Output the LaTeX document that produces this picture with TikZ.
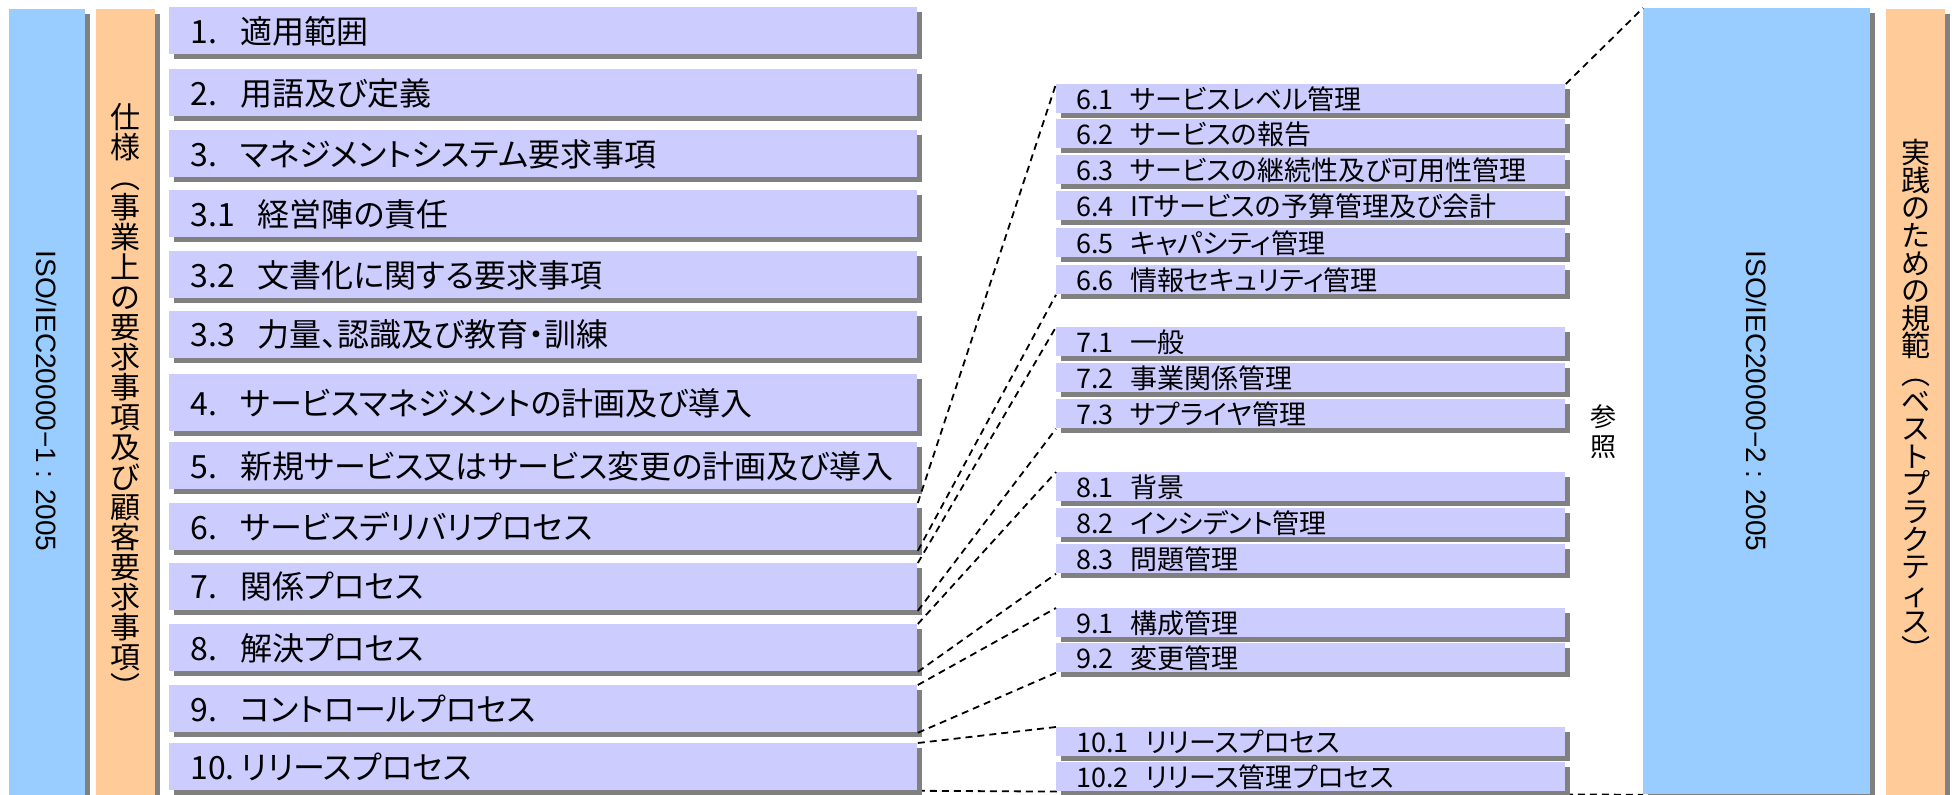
\documentclass[tikz,border=0pt]{standalone}
\usepackage{fontspec}
\setmainfont{Liberation Sans}
\newfontfamily\jpfont{Noto Sans CJK JP}[RawFeature=+palt]
\newfontfamily\jpstack{Noto Sans CJK JP}
\usetikzlibrary{shadows,backgrounds}

\definecolor{clauselilac}{HTML}{CCCCFF}
\definecolor{isoblue}{HTML}{99CCFF}
\definecolor{notepeach}{HTML}{FFCC99}
\definecolor{shadegray}{HTML}{808080}

\newcommand\tightlines{\lineskiplimit=-20pt\relax}

\tikzset{
  raised/.style={anchor=north west,inner sep=0pt,
    drop shadow={shadow xshift=2.5pt,shadow yshift=-2.5pt,fill=shadegray,opacity=1}},
  column/.style={raised,minimum height=400pt},
  clause/.style={raised,fill=clauselilac,minimum width=374pt,minimum height=23.5pt,
    inner xsep=10.5pt,text width=353pt,align=left,font=\jpfont\fontsize{16}{18}\selectfont},
  subclause/.style={raised,fill=clauselilac,minimum width=254.5pt,minimum height=14.5pt,
    inner xsep=10pt,text width=234.5pt,align=left,font=\jpfont\fontsize{13.5}{14}\selectfont},
  vstack/.style={align=center,inner sep=0pt,font={\jpstack\fontsize{15}{15}\selectfont\tightlines}},
  isotitle/.style={rotate=-90,inner sep=0pt,font=\fontsize{14}{16}\selectfont},
  link/.style={draw,line width=0.9pt,dash pattern=on 3.5pt off 2.5pt}
}

\begin{document}
\begin{tikzpicture}[x=0.5pt,y=-0.5pt]
\useasboundingbox (0,0) rectangle (1952,795);
\clip (0,0) rectangle (1952,795);

\node[column,fill=isoblue,minimum width=38pt] (iso1) at (9,9) {};
\node[column,fill=notepeach,minimum width=29.5pt] (spec) at (96,9) {};
\node[column,fill=isoblue,minimum width=113.5pt,minimum height=393pt] (iso2) at (1643,8) {};
\node[column,fill=notepeach,minimum width=29.5pt] (practice) at (1886,9) {};

\node[isotitle] (iso1text) at (47,401) {ISO/IEC20000−1 : 2005};
\node[isotitle] (iso2text) at (1756.5,401) {ISO/IEC20000−2 : 2005};
\node[vstack] (spectext) at (125.5,401)
  {仕\\様\\︵\\事\\業\\上\\の\\要\\求\\事\\項\\及\\び\\顧\\客\\要\\求\\事\\項\\︶};
\node[vstack,font={\jpstack\fontsize{14.5}{13.8}\selectfont\tightlines}] (practicetext) at (1915.5,400)
  {実\\践\\の\\た\\め\\の\\規\\範\\︵\\ベ\\ス\\ト\\プ\\ラ\\ク\\テ\\ィ\\ス\\︶};
\node[vstack,font={\jpstack\fontsize{13}{15}\selectfont\tightlines}] (refer) at (1603,432) {参\\照};

\node[clause] (c1) at (169,7) {1.\hspace{0.72em}適用範囲};
\node[clause] (c2) at (169,69) {2.\hspace{0.72em}用語及び定義};
\node[clause] (c3) at (169,130) {3.\hspace{0.72em}マネジメントシステム要求事項};
\node[clause] (c31) at (169,190) {3.1\hspace{0.72em}経営陣の責任};
\node[clause] (c32) at (169,251) {3.2\hspace{0.72em}文書化に関する要求事項};
\node[clause] (c33) at (169,311) {3.3\hspace{0.72em}力量、認識及び教育・訓練};
\node[clause,minimum height=28.5pt] (c4) at (169,374) {4.\hspace{0.72em}サービスマネジメントの計画及び導入};
\node[clause] (c5) at (169,442) {5.\hspace{0.72em}新規サービス又はサービス変更の計画及び導入};
\node[clause] (c6) at (169,503) {6.\hspace{0.72em}サービスデリバリプロセス};
\node[clause] (c7) at (169,563) {7.\hspace{0.72em}関係プロセス};
\node[clause] (c8) at (169,624) {8.\hspace{0.72em}解決プロセス};
\node[clause] (c9) at (169,685) {9.\hspace{0.72em}コントロールプロセス};
\node[clause] (c10) at (169,743) {10.\hspace{0.2em}リリースプロセス};

\node[subclause] (s61) at (1056,84) {6.1\hspace{0.6em}サービスレベル管理};
\node[subclause] (s62) at (1056,119) {6.2\hspace{0.6em}サービスの報告};
\node[subclause] (s63) at (1056,155) {6.3\hspace{0.6em}サービスの継続性及び可用性管理};
\node[subclause] (s64) at (1056,191) {6.4\hspace{0.6em}ITサービスの予算管理及び会計};
\node[subclause] (s65) at (1056,228) {6.5\hspace{0.6em}キャパシティ管理};
\node[subclause] (s66) at (1056,265) {6.6\hspace{0.6em}情報セキュリティ管理};
\node[subclause] (s71) at (1056,327) {7.1\hspace{0.6em}一般};
\node[subclause] (s72) at (1056,363) {7.2\hspace{0.6em}事業関係管理};
\node[subclause] (s73) at (1056,399) {7.3\hspace{0.6em}サプライヤ管理};
\node[subclause] (s81) at (1056,472) {8.1\hspace{0.6em}背景};
\node[subclause] (s82) at (1056,508) {8.2\hspace{0.6em}インシデント管理};
\node[subclause] (s83) at (1056,544) {8.3\hspace{0.6em}問題管理};
\node[subclause] (s91) at (1056,608) {9.1\hspace{0.6em}構成管理};
\node[subclause] (s92) at (1056,643) {9.2\hspace{0.6em}変更管理};
\node[subclause] (s101) at (1056,727) {10.1\hspace{0.6em}リリースプロセス};
\node[subclause] (s102) at (1056,762) {10.2\hspace{0.6em}リリース管理プロセス};

\draw[link] (c6.north east) -- (s61.north west);
\draw[link] (c6.south east) -- (s66.south west);
\draw[link] (c7.north east) -- (s71.north west);
\draw[link] (c7.south east) -- (s73.south west);
\draw[link] (c8.north east) -- (s81.north west);
\draw[link] (c8.south east) -- (s83.south west);
\draw[link] (c9.north east) -- (s91.north west);
\draw[link] (c9.south east) -- (s92.south west);
\draw[link] (c10.north east) -- (s101.north west);
\draw[link] (s61.north east) -- (iso2.north west);
\begin{scope}[on background layer]
\draw[link] (c10.south east) -- (iso2.south west);
\end{scope}
\end{tikzpicture}
\end{document}
